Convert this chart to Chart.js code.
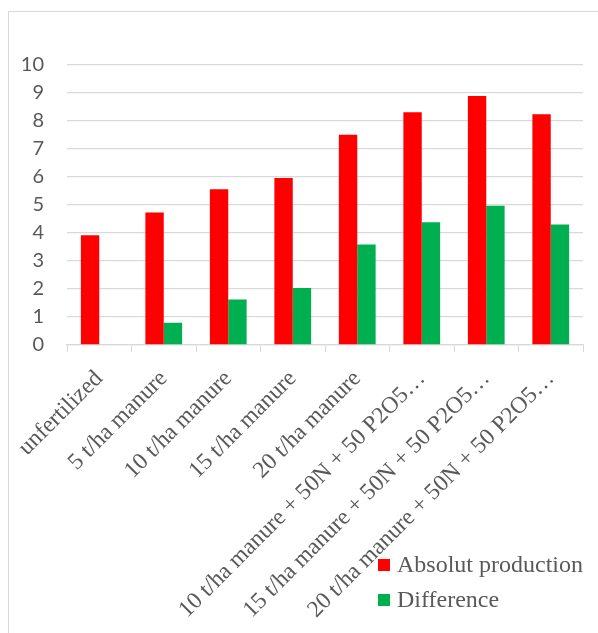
<!DOCTYPE html>
<html>
<head>
<meta charset="utf-8">
<script src="https://cdn.jsdelivr.net/npm/chart.js@4.4.1/dist/chart.umd.min.js"></script>
<style>
  html, body { margin: 0; padding: 0; background: #fff; overflow: hidden; }
  #wrap { position: relative; width: 598px; height: 633px; }
  #frame { position: absolute; left: 8px; top: 11px; width: 700px; height: 700px;
           border: 1px solid #d9d9d9; box-sizing: border-box; }
  #legend { position: absolute; left: 378px; top: 547px;
            font-family: "Liberation Serif", "Times New Roman", serif; font-size: 24px; color: #595959; }
  .item { display: flex; align-items: center; height: 35px; white-space: nowrap; }
  .sw { width: 12px; height: 12px; margin-right: 7px; }
</style>
</head>
<body>
<div id="wrap">
  <div id="frame"></div>
  <canvas id="yieldChart" width="598" height="633"></canvas>
  <div id="legend"></div>
</div>
<script>
// Yield by fertilization variant
const categories = [
  'unfertilized',
  '5 t/ha manure',
  '10 t/ha manure',
  '15 t/ha manure',
  '20 t/ha manure',
  '10 t/ha manure + 50N + 50 P2O5…',
  '15 t/ha manure + 50N + 50 P2O5…',
  '20 t/ha manure + 50N + 50 P2O5…'
];
const absolutProduction = [3.91, 4.72, 5.55, 5.95, 7.5, 8.3, 8.88, 8.23];
const difference = [null, 0.79, 1.62, 2.03, 3.58, 4.38, 4.96, 4.3];
const yTicks = [0, 1, 2, 3, 4, 5, 6, 7, 8, 9, 10];

const seriesNames = ['Absolut production', 'Difference'];
const seriesColors = ['#ff0000', '#00b050'];

const grey = '#595959';
const gridGrey = '#d9d9d9';

const ctx = document.getElementById('yieldChart').getContext('2d');
new Chart(ctx, {
  type: 'bar',
  data: {
    labels: categories,
    datasets: [
      { label: seriesNames[0], data: absolutProduction, backgroundColor: seriesColors[0] },
      { label: seriesNames[1], data: difference, backgroundColor: seriesColors[1] }
    ]
  },
  options: {
    responsive: false,
    animation: false,
    categoryPercentage: 0.57,
    barPercentage: 1,
    layout: { padding: { top: 64.5, right: 15, left: 0, bottom: 0 } },
    plugins: { legend: { display: false }, tooltip: { enabled: false } },
    scales: {
      x: {
        grid: { offset: true, drawOnChartArea: false, drawTicks: true, tickLength: 7, color: gridGrey },
        border: { color: gridGrey, width: 1.3 },
        ticks: {
          minRotation: 45, maxRotation: 45, autoSkip: false, padding: 13,
          color: grey, font: { family: '"Liberation Serif", "Times New Roman", serif', size: 23.5 }
        },
        afterFit: s => { s.height = 288; }
      },
      y: {
        min: 0, max: 10,
        afterBuildTicks: s => { s.ticks = yTicks.map(v => ({ value: v })); },
        grid: { color: gridGrey, lineWidth: 1.3, drawTicks: false },
        border: { display: false },
        ticks: {
          padding: 23, color: grey,
          font: { family: 'Lato, "Liberation Sans", sans-serif', size: 20 }
        },
        afterFit: s => { s.width = 67; }
      }
    }
  }
});

// legend drawn as html, bottom right like the original
const legend = document.getElementById('legend');
seriesNames.forEach((name, i) => {
  const row = document.createElement('div');
  row.className = 'item';
  row.innerHTML = '<span class="sw" style="background:' + seriesColors[i] + '"></span>' + name;
  legend.appendChild(row);
});
</script>
</body>
</html>
